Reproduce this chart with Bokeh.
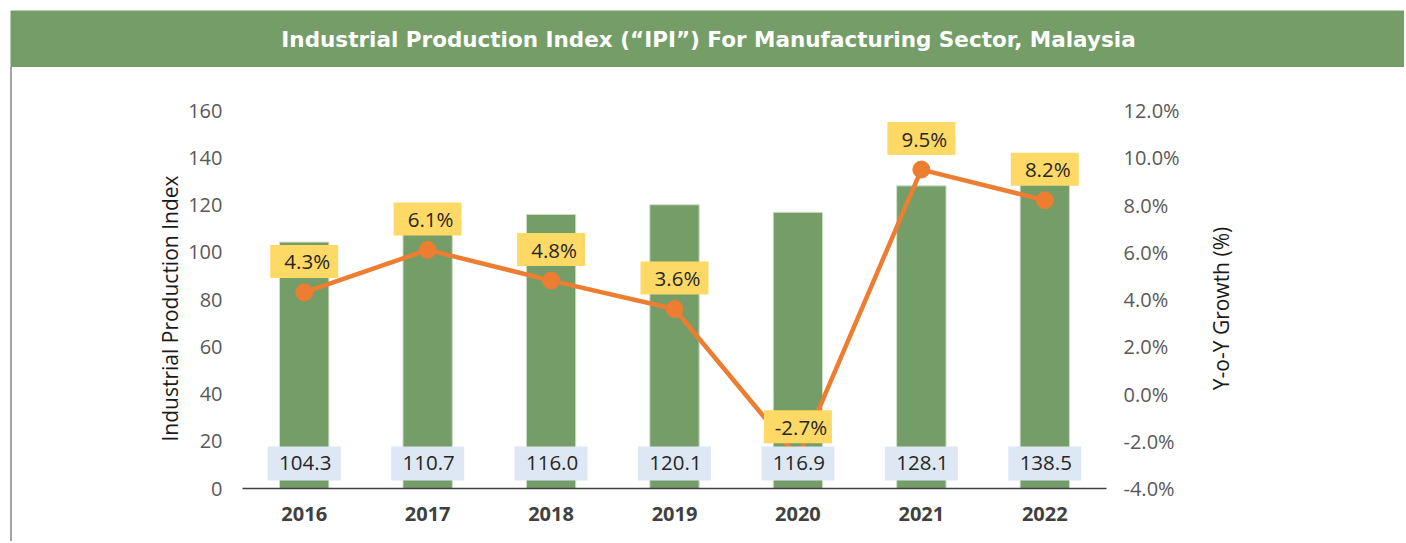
import math
from bokeh.plotting import figure
from bokeh.models import (Range1d, LinearAxis, FixedTicker, PrintfTickFormatter,
                          ColumnDataSource, Spacer)
from bokeh.layouts import column, row
from bokeh.core.properties import value
from bokeh.embed import file_html
from bokeh.resources import INLINE

# ---- data ----
years = ["2016", "2017", "2018", "2019", "2020", "2021", "2022"]
ipi = [104.3, 110.7, 116.0, 120.1, 116.9, 128.1, 138.5]
growth = [4.3, 6.1, 4.8, 3.6, -2.7, 9.5, 8.2]
left_ticks = [0, 20, 40, 60, 80, 100, 120, 140, 160]
right_ticks = [-4, -2, 0, 2, 4, 6, 8, 10, 12]
title_text = "Industrial Production Index (\u201cIPI\u201d) For Manufacturing Sector, Malaysia"
left_title = "Industrial Production Index"
right_title = "Y-o-Y Growth (%)"

FONT = "Open Sans"
TFONT = "DejaVu Sans"
GREEN = "#749d68"
ORANGE = "#ed7d31"
YELLOW = "#ffd966"
BLUE = "#dee8f5"
TICK = "#595959"

TOTAL_W, TOTAL_H = 1404, 541
TH = 67                      # title strip height
SW = 12                      # left margin + border line
MH = TOTAL_H - TH
FW, FH = 864, 378
LW = 173                     # left title panel width
BL = 53
BR = 81
PW = BL + FW + BR
RW = 200                     # right title panel width
BT = 110 - TH
BB = MH - BT - FH


def blank(w, h, fw, fh, top=0, bottom=0):
    f = figure(width=w, height=h, x_range=Range1d(0, fw), y_range=Range1d(0, fh),
               output_backend="svg", toolbar_location=None, x_axis_type=None,
               y_axis_type=None, min_border_left=0, min_border_right=0,
               min_border_top=top, min_border_bottom=bottom,
               frame_width=fw, frame_height=fh)
    f.grid.visible = False
    f.outline_line_color = None
    return f


# ---- title strip ----
t = blank(TOTAL_W, TH, TOTAL_W, TH)
t.quad(left=[10], right=[TOTAL_W], bottom=[0], top=[TH - 10], fill_color=GREEN, line_color=None)
t.text(x=[708], y=[(TH - 10) / 2], text=[title_text], text_font=value(TFONT),
       text_font_size="21.5px", text_font_style="bold", text_color="white",
       text_align="center", text_baseline="middle")

# ---- left border (pure decoration) ----
gap = Spacer(width=10, height=MH)
border = Spacer(width=2, height=MH, styles={"background-color": "#a3a3a3"})

# ---- axis title panels (same vertical structure as the chart) ----
lt = blank(LW, MH, LW, FH, BT, BB)
lt.text(x=[157], y=[FH - (308 - 110)], text=[left_title], angle=math.pi / 2,
        text_font=value(FONT), text_font_size="21px", text_color="#1a1a1a",
        text_align="center", text_baseline="middle")
rt = blank(RW, MH, RW, FH, BT, BB)
rt.text(x=[33], y=[FH - (308 - 110)], text=[right_title], angle=math.pi / 2,
        text_font=value(FONT), text_font_size="21px", text_color="#1a1a1a",
        text_align="center", text_baseline="middle")

# ---- main chart ----
px_per_pct = FH / (right_ticks[-1] - right_ticks[0])
lab_shift = 31 / px_per_pct

src = ColumnDataSource(dict(
    x=years, ipi=ipi, growth=growth,
    ipi_txt=[f"{v:.1f}" for v in ipi],
    g_txt=[f"{v:.1f}%" for v in growth],
    g_box=[g + lab_shift for g in growth],
    base=[10.6] * len(years),
))

p = figure(x_range=years, y_range=Range1d(0, 160), output_backend="svg",
           toolbar_location=None, frame_width=FW, frame_height=FH,
           min_border_left=BL, min_border_right=BR,
           min_border_top=BT, min_border_bottom=BB,
           background_fill_color="white", border_fill_color="white")
p.extra_y_ranges = {"pct": Range1d(right_ticks[0], right_ticks[-1])}
p.outline_line_color = None
p.xgrid.grid_line_color = None
p.ygrid.grid_line_color = None
p.x_range.range_padding = 0

p.vbar(x="x", top="ipi", width=0.4, source=src, fill_color=GREEN,
       line_color="#cfe0c8", line_width=1)

p.line(x="x", y="growth", source=src, y_range_name="pct", line_color=ORANGE, line_width=4.5)
p.scatter(x="x", y="growth", source=src, y_range_name="pct", size=17,
          fill_color=ORANGE, line_color=ORANGE)

p.rect(x="x", y="base", width=73, height=34, width_units="screen", height_units="screen",
       source=src, fill_color=BLUE, line_color=None)
p.text(x="x", y="base", text="ipi_txt", source=src, text_font=value(FONT),
       text_font_size="20.5px", text_color="#262626", text_align="center",
       text_baseline="middle", x_offset=1)
p.rect(x="x", y="g_box", width=68, height=33, width_units="screen", height_units="screen",
       source=src, y_range_name="pct", fill_color=YELLOW, line_color=None)
p.text(x="x", y="g_box", text="g_txt", source=src, y_range_name="pct",
       text_font=value(FONT), text_font_size="20.5px", text_color="#262626",
       text_align="center", text_baseline="middle", x_offset=3)

xa = p.xaxis[0]
xa.axis_line_color = "#404040"
xa.axis_line_width = 1.5
xa.major_tick_line_color = None
xa.minor_tick_line_color = None
xa.major_label_text_font = FONT
xa.major_label_text_font_size = "20px"
xa.major_label_text_font_style = "bold"
xa.major_label_text_color = "#404040"
xa.major_label_standoff = 12

ya = p.yaxis[0]
ya.ticker = FixedTicker(ticks=left_ticks)
ya.axis_line_color = None
ya.major_tick_line_color = None
ya.minor_tick_line_color = None
ya.major_label_text_font = FONT
ya.major_label_text_font_size = "20px"
ya.major_label_text_color = TICK
ya.major_label_standoff = 14

ra = LinearAxis(y_range_name="pct", ticker=FixedTicker(ticks=right_ticks),
                formatter=PrintfTickFormatter(format="%.1f%%"))
ra.axis_line_color = None
ra.major_tick_line_color = None
ra.minor_tick_line_color = None
ra.major_label_text_font = FONT
ra.major_label_text_font_size = "20px"
ra.major_label_text_color = TICK
ra.major_label_standoff = 11
p.add_layout(ra, "right")

layout = column(t, row(gap, border, lt, p, rt))
open("out.html", "w").write(file_html(layout, INLINE))
